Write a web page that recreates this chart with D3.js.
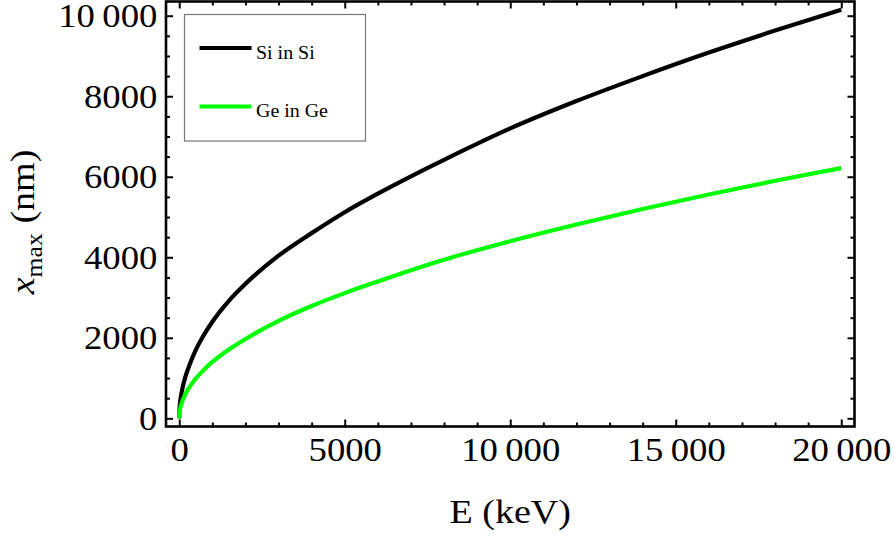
<!DOCTYPE html>
<html>
<head>
<meta charset="utf-8">
<script src="https://cdn.jsdelivr.net/npm/d3@7"></script>
<style>
  html, body { margin: 0; padding: 0; background: #fff; }
  svg { display: block; }
  text { font-family: "Liberation Serif", "Times New Roman", serif; fill: #000; }
</style>
</head>
<body>
<svg id="chart" width="894" height="538"></svg>
<script>
// Projected range x_max (nm) versus ion energy E (keV)
const energy = [0, 10, 25, 50, 100, 175, 250, 375, 500, 750, 1000, 1500, 2000, 3000, 4000, 5000, 6000, 7000, 8000, 10000, 12000, 14000, 16000, 18000, 20000];
const siInSi = [0, 240, 380, 535, 760, 1000, 1190, 1460, 1700, 2080, 2400, 2920, 3340, 4040, 4600, 5120, 5580, 6010, 6420, 7200, 7880, 8500, 9085, 9630, 10150];
const geInGe = [0, 140, 220, 311, 440, 582, 700, 855, 990, 1210, 1400, 1710, 1970, 2420, 2790, 3110, 3400, 3680, 3940, 4400, 4815, 5200, 5560, 5900, 6215];

const seriesNames = ["Si in Si", "Ge in Ge"];
const seriesColors = ["#000000", "#00ff00"];

const xMajorTicks = [0, 5000, 10000, 15000, 20000];
const yMajorTicks = [0, 2000, 4000, 6000, 8000, 10000];

const svg = d3.select("#chart");

const plotLeft = 166, plotRight = 854.5, plotTop = 1.5, plotBottom = 426.5;

const x = d3.scaleLinear().domain([-400, 20400]).range([plotLeft, plotRight]);
const y = d3.scaleLinear().domain([-203, 10353]).range([plotBottom, plotTop]);

// Number format with a thin space as thousands separator above 9999
const fmt = v => v >= 10000 ? d3.format(",")(v).replace(/,/g, "\u2009") : String(v);

const xMinor = d3.range(0, 20001, 1000).filter(v => !xMajorTicks.includes(v));
const yMinor = d3.range(0, 10001, 500).filter(v => !yMajorTicks.includes(v));

function styleAxis(g) {
  g.select(".domain").remove();
  g.selectAll(".tick line").attr("stroke", "#000").attr("stroke-width", 2);
  g.selectAll(".tick text").attr("font-size", 34).attr("transform", "scale(1.08,1)");
}

// Bottom axis with labels
svg.append("g").attr("transform", `translate(0,${plotBottom})`)
  .call(d3.axisBottom(x).tickValues(xMajorTicks).tickSize(-7).tickPadding(10).tickFormat(fmt))
  .call(styleAxis);
svg.append("g").attr("transform", `translate(0,${plotBottom})`)
  .call(d3.axisBottom(x).tickValues(xMinor).tickSize(-4).tickFormat(""))
  .call(styleAxis);
// Top axis (ticks only)
svg.append("g").attr("transform", `translate(0,${plotTop})`)
  .call(d3.axisTop(x).tickValues(xMajorTicks).tickSize(-7).tickFormat(""))
  .call(styleAxis);
svg.append("g").attr("transform", `translate(0,${plotTop})`)
  .call(d3.axisTop(x).tickValues(xMinor).tickSize(-4).tickFormat(""))
  .call(styleAxis);
// Left axis with labels
svg.append("g").attr("transform", `translate(${plotLeft},0)`)
  .call(d3.axisLeft(y).tickValues(yMajorTicks).tickSize(-7).tickPadding(8).tickFormat(fmt))
  .call(styleAxis);
svg.append("g").attr("transform", `translate(${plotLeft},0)`)
  .call(d3.axisLeft(y).tickValues(yMinor).tickSize(-4).tickFormat(""))
  .call(styleAxis);
// Right axis (ticks only)
svg.append("g").attr("transform", `translate(${plotRight},0)`)
  .call(d3.axisRight(y).tickValues(yMajorTicks).tickSize(-7).tickFormat(""))
  .call(styleAxis);
svg.append("g").attr("transform", `translate(${plotRight},0)`)
  .call(d3.axisRight(y).tickValues(yMinor).tickSize(-4).tickFormat(""))
  .call(styleAxis);

// Frame
svg.append("rect")
  .attr("x", plotLeft).attr("y", plotTop)
  .attr("width", plotRight - plotLeft).attr("height", plotBottom - plotTop)
  .attr("fill", "none").attr("stroke", "#000").attr("stroke-width", 2.6);

// Curves
const line = d3.line()
  .x(d => x(d[0]))
  .y(d => y(d[1]))
  .curve(d3.curveMonotoneX);

[siInSi, geInGe].forEach((vals, i) => {
  svg.append("path")
    .datum(energy.map((e, j) => [e, vals[j]]))
    .attr("d", line)
    .attr("fill", "none")
    .attr("stroke", seriesColors[i])
    .attr("stroke-width", 4.2)
    .attr("stroke-linejoin", "round");
});

// Legend
const legend = svg.append("g");
legend.append("rect")
  .attr("x", 184.5).attr("y", 14.5).attr("width", 181).attr("height", 126.5)
  .attr("fill", "#fff").attr("stroke", "#777").attr("stroke-width", 1.2);
seriesNames.forEach((name, i) => {
  const ly = 48 + i * 58.5;
  legend.append("line")
    .attr("x1", 199.5).attr("x2", 251.5).attr("y1", ly).attr("y2", ly)
    .attr("stroke", seriesColors[i]).attr("stroke-width", 4.2);
  legend.append("text")
    .attr("transform", `translate(256,${ly + 10.5}) scale(1.05,1)`)
    .attr("font-size", 19)
    .text(name);
});

// Axis titles
svg.append("text")
  .attr("transform", `translate(${(plotLeft + plotRight) / 2},523) scale(1.12,1)`)
  .attr("text-anchor", "middle").attr("font-size", 34)
  .text("E (keV)");

const yTitle = svg.append("text")
  .attr("transform", "translate(34,222) rotate(-90) scale(1.12,1)")
  .attr("text-anchor", "middle").attr("font-size", 34);
yTitle.append("tspan").attr("font-style", "italic").text("x");
yTitle.append("tspan").attr("font-size", 23).attr("dy", 8).text("max");
yTitle.append("tspan").attr("dy", -8).text(" (nm)");
</script>
</body>
</html>
